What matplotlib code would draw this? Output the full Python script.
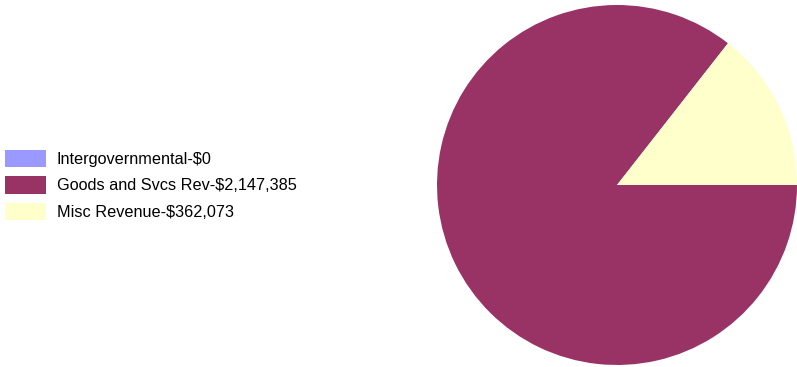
import matplotlib.pyplot as plt
from matplotlib.patches import Patch

labels = ["Intergovernmental-$0", "Goods and Svcs Rev-$2,147,385", "Misc Revenue-$362,073"]
values = [0, 2147385, 362073]
colors = ["#9999ff", "#993366", "#ffffcc"]

plt.rcParams["font.family"] = ["Liberation Sans", "DejaVu Sans"]

fig = plt.figure(figsize=(7.97, 3.67), dpi=100)
ax = fig.add_axes([437 / 797, 2 / 367, 360 / 797, 360 / 367])
ax.pie(values, colors=colors, startangle=0, counterclock=False,
       wedgeprops={"linewidth": 0})
ax.set_aspect("equal")
ax.set_xlim(-1, 1)
ax.set_ylim(-1, 1)
ax.axis("off")

handles = [Patch(facecolor=c, edgecolor="none") for c in colors]
fig.legend(handles, labels, loc="center left", bbox_to_anchor=(5 / 797, 1 - 185 / 367),
           frameon=False, fontsize=11.7, handlelength=2.5, handleheight=1.25,
           handletextpad=0.68, labelspacing=0.55, borderpad=0, borderaxespad=0)

fig.savefig("out.png", dpi=100)
